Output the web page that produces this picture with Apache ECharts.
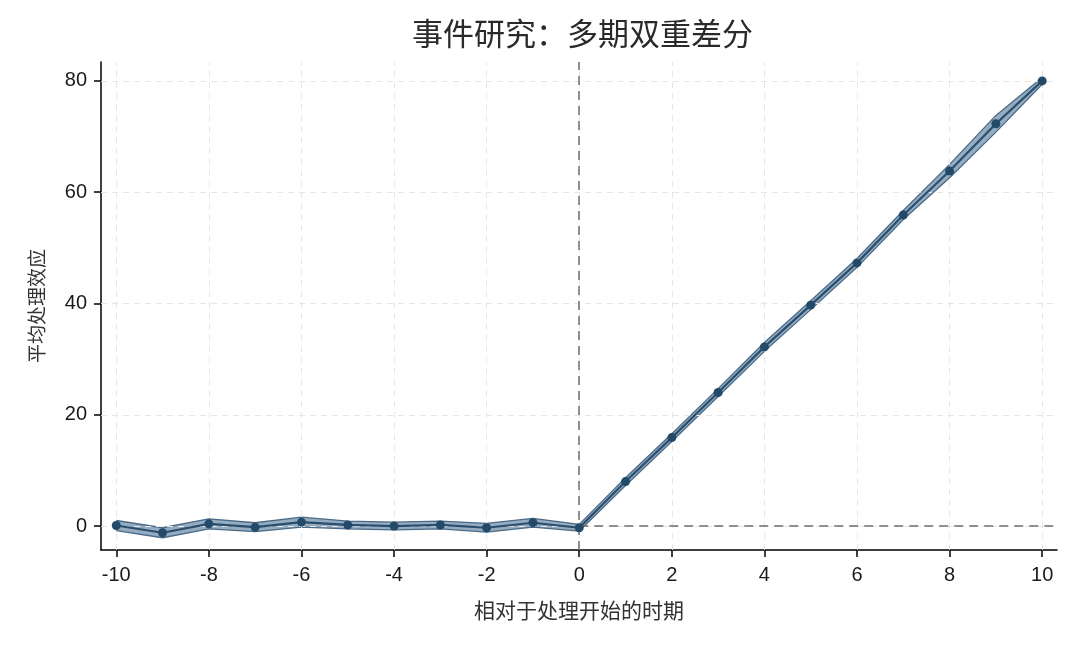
<!DOCTYPE html>
<html><head><meta charset="utf-8">
<script src="https://cdn.jsdelivr.net/npm/echarts@6/dist/echarts.min.js"></script>
<style>html,body{margin:0;padding:0;background:#fff}#c{width:1080px;height:648px}</style>
</head><body><div id="c"></div>
<script>
const periods = [-10,-9,-8,-7,-6,-5,-4,-3,-2,-1,0,1,2,3,4,5,6,7,8,9,10];
const estimates = [0.1,-1.2,0.4,-0.2,0.7,0.2,0.0,0.2,-0.3,0.6,-0.3,8.0,15.9,24.0,32.2,39.7,47.3,55.9,63.8,72.3,80.0];
const ciLower = [-0.8,-2.1,-0.5,-1.0,-0.2,-0.5,-0.7,-0.5,-1.1,-0.2,-0.9,7.3,15.2,23.3,31.4,38.9,46.5,55.1,62.6,70.8,79.4];
const ciUpper = [1.0,-0.3,1.3,0.6,1.6,0.9,0.7,0.9,0.5,1.4,0.3,8.7,16.6,24.7,33.0,40.5,48.1,56.7,65.0,73.8,80.6];
const xTicks = [-10,-8,-6,-4,-2,0,2,4,6,8,10];
const yTicks = [0,20,40,60,80];

const chart = echarts.init(document.getElementById('c'));
const lab = {fontFamily:'Liberation Sans, Arial, sans-serif', fontSize:20, color:'#1a1a1a'};
const gridLine = {color:'#e6e6e6', type:[6,5], width:1};
const bandData = periods.map((p,i)=>[p,ciLower[i],ciUpper[i]]);
chart.setOption({
  animation:false,
  title:{text:'事件研究：多期双重差分', left:407, top:13,
    textStyle:{fontFamily:'Noto Sans CJK SC', fontWeight:'normal', fontSize:31, color:'#2a2a2a'}},
  grid:{left:101, right:23, top:62, bottom:98},
  xAxis:{type:'value', min:-10.33, max:10.32,
    name:'相对于处理开始的时期', nameLocation:'middle', nameGap:50,
    nameTextStyle:{fontFamily:'Noto Sans CJK SC', fontSize:21, color:'#333'},
    axisLine:{onZero:false, lineStyle:{color:'#000', width:1.5}},
    axisTick:{customValues:xTicks, length:7, lineStyle:{color:'#000', width:1.5}},
    axisLabel:Object.assign({customValues:xTicks, margin:15}, lab),
    splitLine:{show:false}},
  yAxis:{type:'value', min:-4.3, max:83.4,
    name:'平均处理效应', nameLocation:'middle', nameGap:55,
    nameTextStyle:{fontFamily:'Noto Sans CJK SC', fontSize:19, color:'#333'},
    axisLine:{show:true, onZero:false, lineStyle:{color:'#000', width:1.5}},
    axisTick:{show:true, customValues:yTicks, length:7, lineStyle:{color:'#000', width:1.5}},
    axisLabel:Object.assign({customValues:yTicks, margin:14}, lab),
    splitLine:{show:false}},
  series:[
    {type:'line', data:[], silent:true,
     markLine:{symbol:'none', silent:true, label:{show:false}, lineStyle:gridLine,
       data:xTicks.map(v=>({xAxis:v})).concat(yTicks.map(v=>({yAxis:v})))}},
    {type:'line', data:[], silent:true,
     markLine:{symbol:'none', silent:true, label:{show:false}, lineStyle:{color:'#6e6e6e', type:[9,6], width:1.5},
       data:[{xAxis:0}, [{coord:[0,0]},{coord:[10.32,0]}]]}},
    {type:'custom', data:bandData, silent:true, z:3,
     renderItem:function(params, api){
       if (params.dataIndex !== 0) return null;
       const up = bandData.map(d=>api.coord([d[0],d[2]]));
       const lo = bandData.map(d=>api.coord([d[0],d[1]])).reverse();
       return {type:'polygon', shape:{points:up.concat(lo)},
         style:{fill:'rgba(110,140,168,0.72)', stroke:'none'}};
     }},
    {type:'line', data:periods.map((p,i)=>[p,ciLower[i]]), symbol:'none',
     lineStyle:{color:'#4a6b88', width:1.3}, z:4},
    {type:'line', data:periods.map((p,i)=>[p,ciUpper[i]]), symbol:'none',
     lineStyle:{color:'#4a6b88', width:1.3}, z:4},
    {type:'line', data:periods.map((p,i)=>[p,estimates[i]]), symbol:'circle', symbolSize:9,
     lineStyle:{color:'#2a4f6e', width:2.2}, itemStyle:{color:'#234a68', borderWidth:0}, z:5}
  ]
});
</script></body></html>
